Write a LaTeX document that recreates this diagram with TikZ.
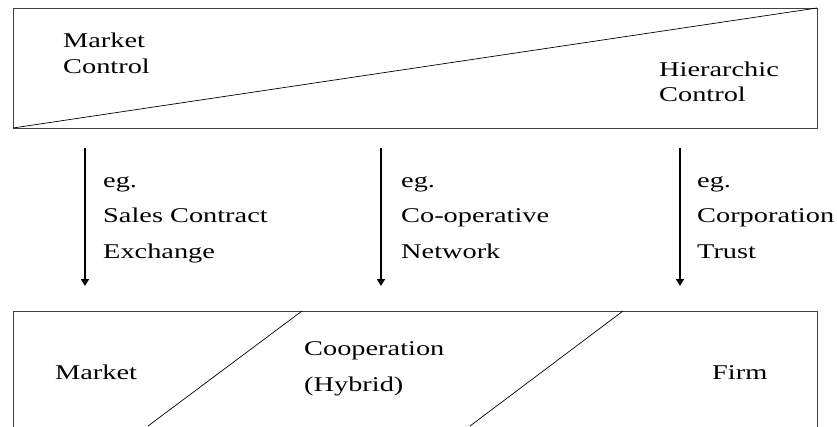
\documentclass[tikz,border=0pt]{standalone}
\usepackage{fontspec}
\setmainfont{Liberation Serif}[FakeStretch=1.35]
\usetikzlibrary{arrows.meta}
\begin{document}
\begin{tikzpicture}[x=1pt,y=-1pt,
  frame/.style={draw=black!75,line width=1pt},
  divider/.style={draw=black,line width=0.7pt},
  flow/.style={draw=black,line width=1.5pt,-{Triangle[width=8pt,length=7pt]}},
  lbl/.style={inner sep=0pt,anchor=base west,font=\fontsize{21}{25}\selectfont}]
\useasboundingbox (0,0) rectangle (837,426);
\clip (0,0) rectangle (837,426);
\fill[white] (0,0) rectangle (837,426);

% control spectrum box
\coordinate (tl) at (13,8);
\coordinate (br) at (817,128);
\draw[frame] (tl) rectangle (br);
\draw[divider] (tl |- br) -- (br |- tl);
\node[lbl] (mc1) at (63,47) {Market};
\node[lbl] (mc2) at (63,73) {Control};
\node[lbl] (hc1) at (659,76) {Hierarchic};
\node[lbl] (hc2) at (659,101) {Control};

% arrows with examples
\coordinate (a1s) at (85,148);  \coordinate (a1e) at (85,286);
\coordinate (a2s) at (381,148); \coordinate (a2e) at (381,286);
\coordinate (a3s) at (680,148); \coordinate (a3e) at (680,286);
\draw[flow] (a1s) -- (a1e);
\draw[flow] (a2s) -- (a2e);
\draw[flow] (a3s) -- (a3e);

\node[lbl] (e1) at (103,187) {eg.};
\node[lbl] (e2) at (103,222) {Sales Contract};
\node[lbl] (e3) at (103,258) {Exchange};
\node[lbl] (f1) at (401,187) {eg.};
\node[lbl] (f2) at (401,222) {Co-operative};
\node[lbl] (f3) at (401,258) {Network};
\node[lbl] (g1) at (697,187) {eg.};
\node[lbl] (g2) at (697,222) {Corporation};
\node[lbl] (g3) at (697,258) {Trust};

% governance forms box (continues below)
\coordinate (btl) at (13,311);
\coordinate (bbr) at (817,440);
\draw[frame] (btl) rectangle (bbr);
\coordinate (d1t) at (302,311); \coordinate (d1b) at (148,426);
\coordinate (d2t) at (623,311); \coordinate (d2b) at (470,426);
\draw[divider] (d1t) -- (d1b);
\draw[divider] (d2t) -- (d2b);
\node[lbl] (m) at (55,379) {Market};
\node[lbl] (c1) at (304,355) {Cooperation};
\node[lbl] (c2) at (304,391) {(Hybrid)};
\node[lbl] (fi) at (712,379) {Firm};
\end{tikzpicture}
\end{document}
